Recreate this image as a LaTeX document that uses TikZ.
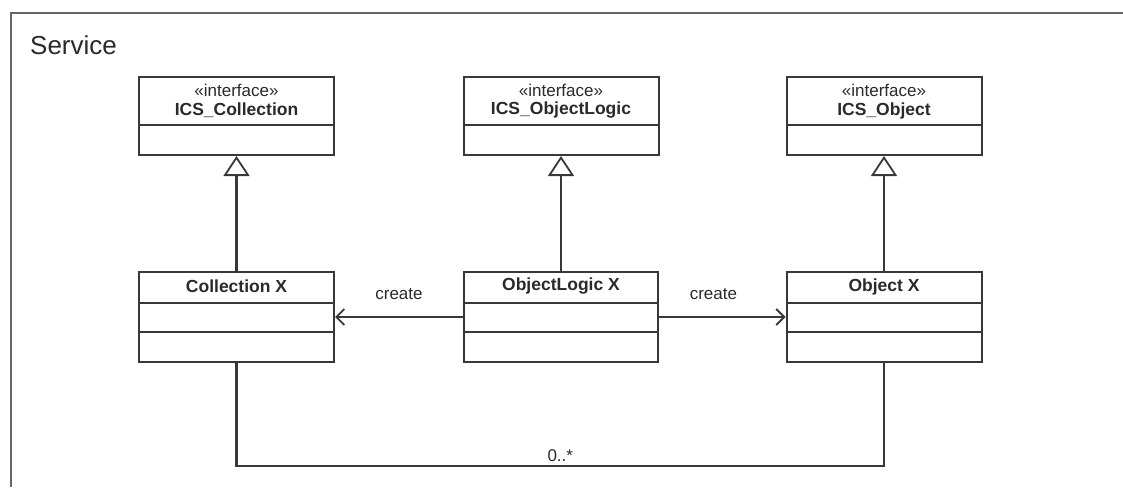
\documentclass[tikz,border=0pt]{standalone}
\usepackage{fontspec}
\setmainfont{Liberation Sans}
\usetikzlibrary{arrows.meta,calc}

\definecolor{ink}{HTML}{2A2A2A}
\definecolor{edge}{HTML}{383838}
\definecolor{framec}{HTML}{666666}

\tikzset{
  umlbox/.style={draw=edge, line width=2pt, fill=white, inner sep=0pt},
  ifacebox/.style={umlbox, minimum width=195pt, minimum height=78pt},
  classbox/.style={umlbox, minimum width=194pt, minimum height=90pt},
  divider/.style={draw=edge, line width=1.8pt},
  lbl/.style={text=ink, font=\fontsize{17}{20}\selectfont, inner sep=0pt},
  boldlbl/.style={lbl, font=\fontsize{17.5}{20}\selectfont\bfseries},
  conn/.style={draw=edge, line width=2.1pt},
  gen/.style={conn, -{Triangle[open, length=20pt, width=26pt, line width=1.8pt, fill=white]}},
  dep/.style={conn, -{Straight Barb[length=8pt, width=16pt, line width=1.8pt]}},
}

\begin{document}
\begin{tikzpicture}[x=1pt, y=-1pt]
\useasboundingbox (0,0) rectangle (1123,487);

% package frame, open to the right and the bottom
\draw[framec, line width=2.6pt] (1123,13) -- (11,13) -- (11,487);
\node[lbl, font=\fontsize{26}{30}\selectfont, anchor=west] (svc) at (30,45) {Service};

% interfaces
\node[ifacebox] (icoll) at (236.5,116) {};
\node[ifacebox] (ilogic) at (561,116) {};
\node[ifacebox] (iobj) at (884,116) {};
\foreach \n/\t in {icoll/ICS\_Collection, ilogic/ICS\_ObjectLogic, iobj/ICS\_Object}{
  \draw[divider] ($(\n.north west)+(0,49)$) -- ($(\n.north east)+(0,49)$);
  \node[lbl] (\n-st) at ($(\n.north)+(0,14)$) {«interface»};
  \node[boldlbl] (\n-nm) at ($(\n.north)+(0,34.5)$) {\t};
}

% classes
\node[classbox, minimum width=195pt] (coll) at (236.5,317) {};
\node[classbox, minimum width=194pt] (logic) at (561,317) {};
\node[classbox, minimum width=195pt] (obj) at (884,317) {};
\foreach \n/\t in {coll/Collection X, logic/ObjectLogic X, obj/Object X}{
  \draw[divider] ($(\n.north west)+(0,32)$) -- ($(\n.north east)+(0,32)$);
  \draw[divider] ($(\n.north west)+(0,61)$) -- ($(\n.north east)+(0,61)$);
  \node[boldlbl] (\n-nm) at ($(\n.north)+(0,15.5)$) {\t};
}

% realisation of the interfaces
\draw[gen] (coll.north) -- (icoll.south);
\draw[gen] (logic.north) -- (ilogic.south);
\draw[gen] (obj.north) -- (iobj.south);

% creation dependencies
\draw[dep] (logic.west) -- node[lbl, pos=0.5, yshift=23pt] (c1) {create} (coll.east);
\draw[dep] (logic.east) -- node[lbl, pos=0.43, yshift=23pt] (c2) {create} (obj.west);

% association between collection and objects
\coordinate (lowl) at (coll.south |- 0,466);
\coordinate (lowr) at (obj.south |- 0,466);
\draw[conn] (coll.south) -- (lowl) -- node[lbl, above=3pt] (mult) {0..*} (lowr) -- (obj.south);
\end{tikzpicture}
\end{document}
